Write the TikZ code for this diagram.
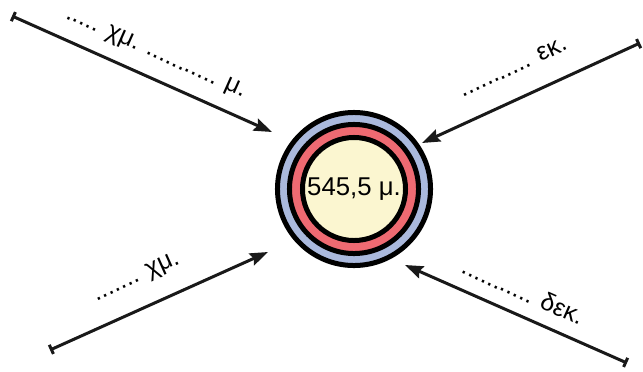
\documentclass[tikz,border=0pt]{standalone}
\usepackage{fontspec}
\setmainfont{Liberation Sans}
\usetikzlibrary{arrows.meta}
\definecolor{ringblue}{RGB}{170,185,221}
\definecolor{ringred}{RGB}{238,106,114}
\definecolor{corecream}{RGB}{251,246,208}

\begin{document}
\begin{tikzpicture}[x=0.025cm,y=0.025cm,ring/.style={circle,draw=black,line width=0.125cm,inner sep=0pt},a/.style={{Bar[width=0.25cm]}-{Stealth[length=0.45cm,width=0.32cm,inset=0.06cm]},line width=0.075cm,draw=black!90},lbl/.style={sloped,anchor=base,inner sep=0pt,font=\fontsize{17.8}{20}\selectfont}]
\useasboundingbox (0,0) rectangle (643,371);
% target rings
\node[ring,fill=ringblue,minimum size=3.825cm] (outer) at (354,182) {};
\node[ring,fill=ringred,minimum size=3.225cm] (mid) at (outer.center) {};
\node[ring,fill=corecream,minimum size=2.575cm,font=\fontsize{18.3}{20}\selectfont] (core) at (outer.center) {545,5 μ.};
% arrow ends
\coordinate (t1) at (12,355); \coordinate (h1) at (272,239);
\coordinate (t2) at (640,328); \coordinate (h2) at (422,228);
\coordinate (t3) at (50,21); \coordinate (h3) at (268,119);
\coordinate (t4) at (627,8); \coordinate (h4) at (405,106);
\draw[a] (t1)--node[lbl,pos=.515,yshift=0.49cm]{..... χμ. ........... μ.} (h1);
\draw[a] (t2)--node[lbl,pos=.524,yshift=0.61cm]{........... εκ.} (h2);
\draw[a] (t3)--node[lbl,pos=.454,yshift=0.64cm]{....... χμ.} (h3);
\draw[a] (t4)--node[lbl,pos=.51,yshift=0.375cm]{........... δεκ.} (h4);
\end{tikzpicture}
\end{document}
